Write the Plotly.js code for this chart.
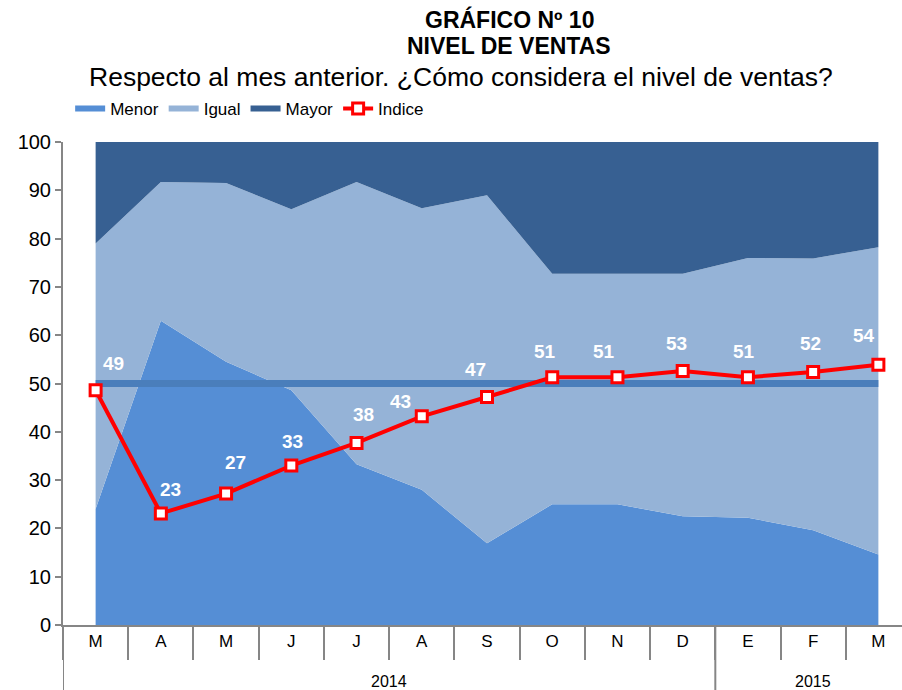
<!DOCTYPE html>
<html>
<head>
<meta charset="utf-8">
<script src="https://cdn.plot.ly/plotly-3.0.1.min.js"></script>
<style>
  html, body { margin: 0; padding: 0; overflow: hidden; background: #fff; }
  #chart { width: 911px; height: 690px; }
</style>
</head>
<body>
<div id="chart"></div>
<script>
// datos
const periodos = ['Mar-14', 'Abr-14', 'May-14', 'Jun-14', 'Jul-14', 'Ago-14', 'Sep-14',
                  'Oct-14', 'Nov-14', 'Dic-14', 'Ene-15', 'Feb-15', 'Mar-15'];
const meses = ['M', 'A', 'M', 'J', 'J', 'A', 'S', 'O', 'N', 'D', 'E', 'F', 'M'];
const anios = ['2014', '2015'];
const anioDesde = [0, 10];   // índice del primer mes de cada año
const anioHasta = [9, 12];   // índice del último mes de cada año

const menor = [24, 63, 54.5, 48.6, 33.3, 28, 16.9, 25, 25, 22.5, 22.2, 19.6, 14.6];
const igual = [55, 28.7, 37, 37.5, 58.4, 58.3, 72.1, 47.7, 47.7, 50.2, 53.8, 56.3, 63.6];
const mayor = [21, 8.3, 8.5, 13.9, 8.3, 13.7, 11, 27.3, 27.3, 27.3, 24, 24.1, 21.8];
const indice = [48.6, 23.1, 27.2, 33.0, 37.7, 43.2, 47.2, 51.3, 51.3, 52.6, 51.3, 52.4, 53.9];
const referencia = [50, 50, 50, 50, 50, 50, 50, 50, 50, 50, 50, 50, 50];

// desplazamiento (px) de cada etiqueta respecto a su punto
const etiquetaDx = [18, 10, 9, 1, 7, -21, -12, -7, -13, -6, -4, -3, -14];
const etiquetaDy = [27, 24, 31, 24, 28, 15, 28, 26, 26, 27, 26, 28, 29];

const FONT = 'Arial, "Liberation Sans", sans-serif';
const GRIS = '#868686';

const traces = [
    {
        x: periodos, y: menor, name: 'Menor', type: 'scatter', mode: 'none',
        stackgroup: 'uno', fillcolor: '#558ED5', hoverinfo: 'skip'
    },
    {
        x: periodos, y: igual, name: 'Igual', type: 'scatter', mode: 'none',
        stackgroup: 'uno', fillcolor: '#95B3D7', hoverinfo: 'skip'
    },
    {
        x: periodos, y: mayor, name: 'Mayor', type: 'scatter', mode: 'none',
        stackgroup: 'uno', fillcolor: '#376092', hoverinfo: 'skip'
    },
    {
        x: periodos, y: referencia, type: 'scatter', mode: 'lines',
        line: {color: '#4A7EBB', width: 7}, showlegend: false, hoverinfo: 'skip'
    },
    {
        x: periodos, y: indice, name: 'Indice', type: 'scatter', mode: 'lines+markers',
        line: {color: '#FF0000', width: 4},
        marker: {symbol: 'square', size: 11, color: '#FFFFFF', line: {color: '#FF0000', width: 3}}
    }
];

// etiquetas blancas sobre cada punto del índice
const annotations = indice.map((v, i) => ({
    x: i, y: v, xref: 'x', yref: 'y',
    text: '<b>' + Math.round(v) + '</b>', showarrow: false,
    xshift: etiquetaDx[i], yshift: etiquetaDy[i],
    font: {family: FONT, size: 19, color: '#FFFFFF'}
}));

// años bajo el eje
anios.forEach((a, k) => {
    annotations.push({
        x: (anioDesde[k] + anioHasta[k]) / 2, y: -0.118, xref: 'x', yref: 'paper',
        yanchor: 'middle', text: a, showarrow: false,
        font: {family: FONT, size: 16, color: '#000'}
    });
});

// títulos
annotations.push(
    {
        xref: 'paper', yref: 'paper', x: 0.526, y: 1.2526, yanchor: 'middle',
        text: '<b>GRÁFICO Nº 10</b>', showarrow: false,
        font: {family: FONT, size: 23, color: '#000'}
    },
    {
        xref: 'paper', yref: 'paper', x: 0.526, y: 1.1988, yanchor: 'middle',
        text: '<b>NIVEL DE VENTAS</b>', showarrow: false,
        font: {family: FONT, size: 23, color: '#000'}
    },
    {
        xref: 'paper', yref: 'paper', x: 0.469, y: 1.1346, yanchor: 'middle',
        text: 'Respecto al mes anterior. ¿Cómo considera el nivel de ventas?',
        showarrow: false, font: {family: FONT, size: 26.5, color: '#000'}
    }
);

// separadores de año
const shapes = [];
[anioDesde[0] - 0.5, anioHasta[0] + 0.5, anioHasta[1] + 0.5].forEach(b => {
    shapes.push({
        type: 'line', xref: 'x', yref: 'paper', x0: b, x1: b, y0: 0, y1: -0.14,
        line: {color: GRIS, width: 2}
    });
});

const layout = {
    width: 911,
    height: 690,
    margin: {l: 63, r: 0, t: 142, b: 65},
    paper_bgcolor: '#fff',
    plot_bgcolor: '#fff',
    font: {family: FONT, color: '#000'},
    showlegend: true,
    legend: {
        orientation: 'h', traceorder: 'normal',
        xref: 'container', x: 0.077, xanchor: 'left',
        yref: 'container', y: 1 - 109 / 690, yanchor: 'middle',
        font: {family: FONT, size: 17, color: '#000'},
        itemwidth: 30, bgcolor: 'rgba(0,0,0,0)'
    },
    xaxis: {
        type: 'category',
        range: [-0.5, 12.5],
        tickmode: 'array', tickvals: periodos, ticktext: meses,
        showline: true, linecolor: GRIS, linewidth: 2,
        ticks: 'outside', tickson: 'boundaries', ticklen: 33, tickcolor: GRIS, tickwidth: 2,
        showgrid: false, zeroline: false,
        tickfont: {family: FONT, size: 17, color: '#000'}
    },
    yaxis: {
        range: [0, 100], dtick: 10, tick0: 0,
        showline: true, linecolor: GRIS, linewidth: 2,
        ticks: 'outside', ticklen: 6, tickcolor: GRIS, tickwidth: 2,
        showgrid: false, zeroline: false,
        tickfont: {family: FONT, size: 20, color: '#000'}
    },
    annotations: annotations,
    shapes: shapes
};

Plotly.newPlot('chart', traces, layout, {displayModeBar: false, staticPlot: true});
</script>
</body>
</html>
